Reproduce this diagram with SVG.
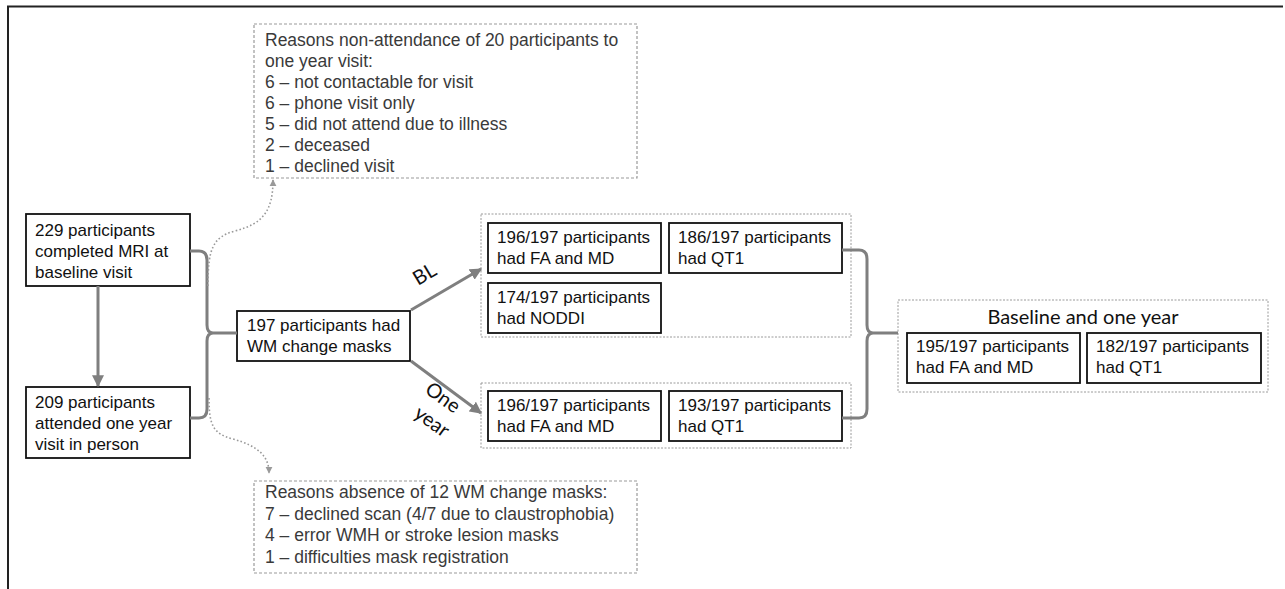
<svg xmlns="http://www.w3.org/2000/svg" width="1285" height="589" viewBox="0 0 1285 589">
<defs>
<style>
.box{fill:#fff;stroke:#111;stroke-width:1.8}
.grp{fill:none;stroke:#9a9a9a;stroke-width:1;stroke-dasharray:2 1.5}
.note{fill:#fff;stroke:#9a9a9a;stroke-width:1.2;stroke-dasharray:3 2}
.t{font-family:"Liberation Sans",Arial,sans-serif;font-size:17px;fill:#111}
.n{font-family:"Liberation Sans",Arial,sans-serif;font-size:17.5px;fill:#3a3a3a}
.c{font-family:Lato,"Open Sans",sans-serif;font-size:20px;fill:#111}
.con{fill:none;stroke:#7f7f7f;stroke-width:3}
.dot{fill:none;stroke:#9a9a9a;stroke-width:1.6;stroke-dasharray:1.6 2.2}
</style>
<marker id="ah" viewBox="0 0 10 10" refX="9" refY="5" markerWidth="4" markerHeight="4" orient="auto" markerUnits="strokeWidth"><path d="M0,0 L10,5 L0,10 z" fill="#7f7f7f"/></marker>
<marker id="ahd" viewBox="0 0 10 10" refX="9" refY="5" markerWidth="4.5" markerHeight="4.5" orient="auto" markerUnits="strokeWidth"><path d="M0,0 L10,5 L0,10 z" fill="#9a9a9a"/></marker>
</defs>
<rect width="1285" height="589" fill="#fff"/>
<path d="M8,589 V6.5 H1283" fill="none" stroke="#222" stroke-width="2"/>

<g id="note-top">
<rect class="note" x="254" y="24" width="383" height="154"/>
<text class="n" x="265" y="46">Reasons non-attendance of 20 participants to</text>
<text class="n" x="265" y="67">one year visit:</text>
<text class="n" x="265" y="88">6 – not contactable for visit</text>
<text class="n" x="265" y="109">6 – phone visit only</text>
<text class="n" x="265" y="130">5 – did not attend due to illness</text>
<text class="n" x="265" y="151">2 – deceased</text>
<text class="n" x="265" y="172">1 – declined visit</text>
</g>

<g id="note-bottom">
<rect class="note" x="254" y="481" width="383" height="92"/>
<text class="n" x="265" y="498">Reasons absence of 12 WM change masks:</text>
<text class="n" x="265" y="520">7 – declined scan (4/7 due to claustrophobia)</text>
<text class="n" x="265" y="541">4 – error WMH or stroke lesion masks</text>
<text class="n" x="265" y="563">1 – difficulties mask registration</text>
</g>

<g id="node-baseline">
<rect class="box" x="26" y="214" width="164" height="72"/>
<text class="t" x="35" y="236">229 participants</text>
<text class="t" x="35" y="257">completed MRI at</text>
<text class="t" x="35" y="278">baseline visit</text>
</g>

<g id="node-oneyear">
<rect class="box" x="26" y="387" width="164" height="71"/>
<text class="t" x="35" y="408">209 participants</text>
<text class="t" x="35" y="429">attended one year</text>
<text class="t" x="35" y="450">visit in person</text>
</g>

<g id="node-masks">
<rect class="box" x="237" y="311" width="173" height="50"/>
<text class="t" x="247" y="331">197 participants had</text>
<text class="t" x="247" y="352">WM change masks</text>
</g>

<g id="group-bl">
<rect class="grp" x="481" y="214" width="370" height="123"/>
<g id="node-bl-fa">
<rect class="box" x="488" y="223" width="173" height="50"/>
<text class="t" x="497" y="243">196/197 participants</text>
<text class="t" x="497" y="264">had FA and MD</text>
</g>
<g id="node-bl-qt1">
<rect class="box" x="669" y="223" width="173" height="50"/>
<text class="t" x="678" y="243">186/197 participants</text>
<text class="t" x="678" y="264">had QT1</text>
</g>
<g id="node-bl-noddi">
<rect class="box" x="488" y="283" width="173" height="50"/>
<text class="t" x="497" y="303">174/197 participants</text>
<text class="t" x="497" y="324">had NODDI</text>
</g>
</g>

<g id="group-oy">
<rect class="grp" x="481" y="383" width="370" height="65"/>
<g id="node-oy-fa">
<rect class="box" x="488" y="391" width="173" height="50"/>
<text class="t" x="497" y="411">196/197 participants</text>
<text class="t" x="497" y="432">had FA and MD</text>
</g>
<g id="node-oy-qt1">
<rect class="box" x="669" y="391" width="173" height="50"/>
<text class="t" x="678" y="411">193/197 participants</text>
<text class="t" x="678" y="432">had QT1</text>
</g>
</g>

<g id="group-both">
<rect class="grp" x="898" y="300" width="370" height="92"/>
<text class="c" x="1083" y="324" text-anchor="middle">Baseline and one year</text>
<g id="node-both-fa">
<rect class="box" x="907" y="333" width="173" height="50"/>
<text class="t" x="916" y="352">195/197 participants</text>
<text class="t" x="916" y="373">had FA and MD</text>
</g>
<g id="node-both-qt1">
<rect class="box" x="1087" y="333" width="174" height="50"/>
<text class="t" x="1096" y="352">182/197 participants</text>
<text class="t" x="1096" y="373">had QT1</text>
</g>
</g>

<g id="connectors">
<line class="con" x1="98" y1="286" x2="98" y2="386" marker-end="url(#ah)"/>
<path class="con" d="M190,251 H199 Q207,251 207,260 V325 Q207,333 213,333 H237 M213,333 Q207,333 207,341 V409 Q207,418 199,418 H190"/>
<line class="con" x1="411" y1="310" x2="481" y2="269" marker-end="url(#ah)"/>
<line class="con" x1="411" y1="361" x2="481" y2="413" marker-end="url(#ah)"/>
<path class="con" d="M842,250 H859 Q867,250 867,259 V325 Q867,333 873,333 H898 M873,333 Q867,333 867,341 V409 Q867,418 859,418 H842"/>
<path class="dot" d="M208,286 C208,250 212,237 235,231 C262,224 273,212 273,180" marker-end="url(#ahd)"/>
<path class="dot" d="M209,398 C209,425 213,434 233,439 C258,446 269,456 269,473" marker-end="url(#ahd)"/>
<text class="c" transform="translate(428,280) rotate(-31)" text-anchor="middle">BL</text>
<text class="c" transform="translate(439,403) rotate(36)" text-anchor="middle">One</text>
<text class="c" transform="translate(428,427) rotate(36)" text-anchor="middle">year</text>
</g>
</svg>
